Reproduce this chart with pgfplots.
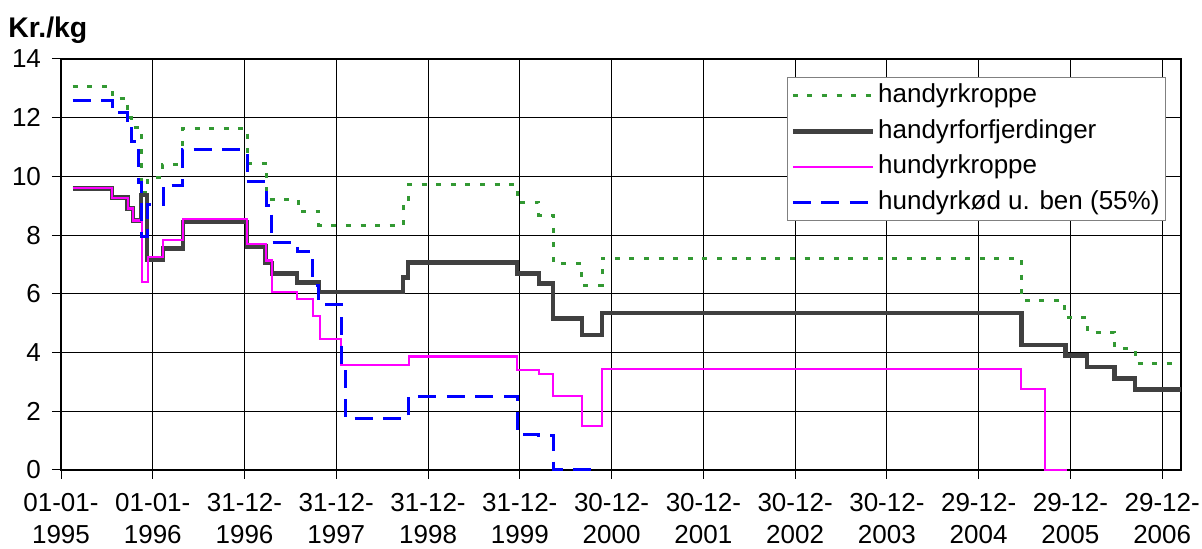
\documentclass[border=0pt]{standalone}
\usepackage{fontspec}
\setmainfont{Liberation Sans}
\usepackage{pgfplots}
\pgfplotsset{compat=1.18}
\definecolor{cgreen}{RGB}{51,153,51}
\definecolor{cdark}{RGB}{64,64,64}
\definecolor{cmag}{RGB}{255,0,255}
\definecolor{cblue}{RGB}{0,0,255}
\begin{document}
\begin{tikzpicture}
\useasboundingbox (-30.5pt,-39.5pt) rectangle (570.5pt,235pt);
\begin{axis}[
  at={(0pt,0pt)}, anchor=south west,
  scale only axis, width=560pt, height=205.5pt,
  xmin=0, xmax=4455, ymin=0, ymax=14,
  xtick={0,365,730,1095,1460,1825,2190,2555,2920,3285,3650,4015,4380},
  xticklabels={{01-01-\\1995},{01-01-\\1996},{31-12-\\1996},{31-12-\\1997},{31-12-\\1998},{31-12-\\1999},{30-12-\\2000},{30-12-\\2001},{30-12-\\2002},{30-12-\\2003},{29-12-\\2004},{29-12-\\2005},{29-12-\\2006}},
  ytick={0,2,4,6,8,10,12,14},
  grid=major, major grid style={black, line width=0.5pt},
  axis line style={line width=1pt},
  tick pos=left, tick align=outside, major tick length=4.5pt,
  tick style={black, line width=0.5pt},
  tick label style={font=\fontsize{13}{16}\selectfont},
  x tick label style={align=center, yshift=-3.5pt},
  y tick label style={xshift=-2pt},
  /pgf/number format/assume math mode=true,
  clip=false,
  legend cell align=left,
  legend image code/.code={\draw[#1] (0pt,0pt) -- (40pt,0pt);},
  legend style={at={(0.9866,0.9562)}, anchor=north east, draw=gray, line width=0.5pt, fill=white,
    font=\fontsize{13}{15}\selectfont, inner xsep=1.5pt, inner ysep=0.5pt, row sep=0.85pt,
    nodes={inner xsep=1.5pt, inner ysep=1.5pt, text height=10.5pt, text depth=3.5pt}},
]
\addplot[cgreen, line width=1.5pt, dash pattern=on 2.5pt off 4.8pt, const plot] coordinates {
(46,13.05) (203,12.66) (266,12.0) (282,11.65) (322,9.45) (346,9.98) (402,10.39) (485,11.64)
(742,10.45) (819,9.22) (943,8.8) (1026,8.34) (1364,8.97) (1384,9.74) (1814,9.12) (1901,8.68)
(1957,7.04) (2072,6.3) (2152,7.22) (3821,5.77) (3990,5.21) (4081,4.70) (4191,4.15) (4272,3.64) (4455,3.64)};
\addplot[cdark, line width=2.4pt, const plot] coordinates {
(46,9.6) (203,9.27) (266,8.91) (286,8.5) (318,9.37) (342,7.15) (406,7.55) (485,8.45)
(740,7.6) (815,7.05) (839,6.7) (939,6.4) (1026,6.06) (1360,6.57) (1380,7.08) (1814,6.7)
(1901,6.36) (1957,5.17) (2072,4.6) (2152,5.35) (3819,4.26) (3994,3.91) (4081,3.51) (4189,3.13) (4272,2.75) (4455,2.75)};
\addplot[cmag, line width=1.2pt, const plot] coordinates {
(46,9.6) (203,9.27) (266,8.91) (286,8.5) (322,6.4) (346,7.25) (406,7.83) (485,8.55)
(740,7.7) (815,7.13) (839,6.07) (939,5.82) (1002,5.24) (1030,4.46) (1114,3.57) (1384,3.86)
(1814,3.41) (1901,3.26) (1957,2.52) (2072,1.5) (2152,3.43) (3819,2.75) (3914,0) (4002,0)};
\addplot[cblue, line width=1.5pt, dash pattern=on 9pt off 5.3pt, const plot] coordinates {
(46,12.57) (203,12.17) (266,11.9) (282,11.2) (310,9.8) (322,7.95) (346,9.06) (406,9.7) (485,10.9)
(740,9.81) (819,9.0) (839,7.75) (939,7.44) (1002,6.3) (1026,5.65) (1114,3.5) (1130,1.77)
(1384,2.52) (1814,1.22) (1901,1.17) (1957,0) (2140,0)};
\legend{handyrkroppe, handyrforfjerdinger, hundyrkroppe, hundyrkød u. ben (55\%)}
\end{axis}
\node[anchor=base west, font=\bfseries\fontsize{14.2}{16}\selectfont, inner sep=0pt] at (-26.5pt,216pt) {Kr./kg};
\end{tikzpicture}
\end{document}
